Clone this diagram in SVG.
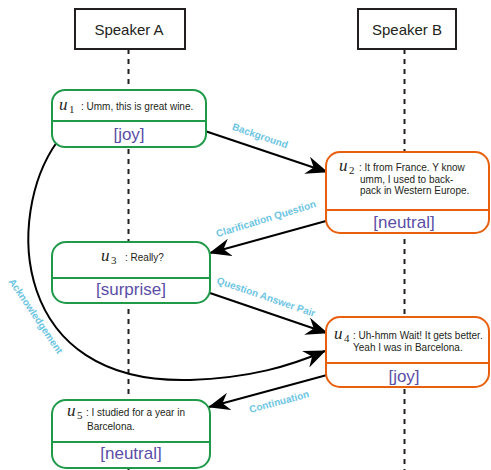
<svg xmlns="http://www.w3.org/2000/svg" width="491" height="470" viewBox="0 0 491 470">
<style>
.spk{fill:#fff;stroke:#231f20;stroke-width:2}
.spkt{font-family:"Liberation Sans",Arial,sans-serif;font-size:15px;fill:#231f20;text-anchor:middle}
.life{stroke:#231f20;stroke-width:2;stroke-dasharray:5,5;fill:none}
.ga{fill:#fff;stroke:#1f9a48;stroke-width:2}
.gl{stroke:#1f9a48;stroke-width:2}
.ob{fill:#fff;stroke:#e8600e;stroke-width:2}
.ol{stroke:#e8600e;stroke-width:2}
.u{font-family:"Liberation Serif","Times New Roman",serif;font-style:italic;font-size:17px;fill:#231f20}
.sub{font-family:"Liberation Serif","Times New Roman",serif;font-size:11px;fill:#231f20}
.t{font-family:"Liberation Sans",Arial,sans-serif;font-size:10px;fill:#231f20}
.emo{font-family:"Liberation Sans",Arial,sans-serif;font-size:17px;fill:#5a4ea6;text-anchor:middle}
.edge{stroke:#000;stroke-width:2;fill:none}
.lbl{font-family:"Liberation Sans",Arial,sans-serif;font-size:10px;font-weight:bold;fill:#6cc5e2;text-anchor:middle}
</style>
<defs>
<marker id="ah" viewBox="0 0 22 18" refX="21" refY="9" markerWidth="22" markerHeight="18" markerUnits="userSpaceOnUse" orient="auto">
<path d="M0,0 L22,9 L0,18 L7,9 Z" fill="#000"/>
</marker>
</defs>
<rect width="491" height="470" fill="#fff"/>
<g id="lifelines">
<line class="life" x1="128.5" y1="49" x2="128.5" y2="470"/>
<line class="life" x1="404.5" y1="49" x2="404.5" y2="470"/>
</g>
<g id="speakerA">
<rect class="spk" x="75" y="9" width="110" height="40"/>
<text class="spkt" x="129" y="35">Speaker A</text>
</g>
<g id="speakerB">
<rect class="spk" x="358" y="9" width="98" height="40"/>
<text class="spkt" x="407" y="35">Speaker B</text>
</g>
<g id="connectors">
<path class="edge" d="M57,142 C5,215 10,385 190,380 C250,378 290,366 325,351" marker-end="url(#ah)"/>
<line class="edge" x1="205" y1="131" x2="327" y2="172" marker-end="url(#ah)"/>
<line class="edge" x1="326" y1="221" x2="210" y2="253" marker-end="url(#ah)"/>
<line class="edge" x1="207" y1="292" x2="327" y2="333" marker-end="url(#ah)"/>
<line class="edge" x1="327" y1="375" x2="209" y2="407" marker-end="url(#ah)"/>
<text class="lbl" transform="translate(259,139) rotate(19)">Background</text>
<text class="lbl" transform="translate(267,222) rotate(-17)">Clarification Question</text>
<text class="lbl" transform="translate(265,300) rotate(19)">Question Answer Pair</text>
<text class="lbl" transform="translate(280,405) rotate(-15)">Continuation</text>
<text class="lbl" transform="translate(33,318) rotate(56)">Acknowledgement</text>
</g>
<g id="u1">
<rect class="ga" x="52" y="90" width="154" height="57" rx="13"/>
<line class="gl" x1="52" y1="121" x2="206" y2="121"/>
<text class="u" x="59" y="110">u</text><text class="sub" x="69" y="113">1</text>
<text class="t" x="81" y="110">: Umm, this is great wine.</text>
<text class="emo" x="129" y="140">[joy]</text>
</g>
<g id="u2">
<rect class="ob" x="326" y="152" width="163" height="81" rx="14"/>
<line class="ol" x1="326" y1="210" x2="489" y2="210"/>
<text class="u" x="339" y="171">u</text><text class="sub" x="349" y="174">2</text>
<text class="t" x="359" y="171">: It from France. Y know</text>
<text class="t" x="360" y="182.5">umm, I used to back-</text>
<text class="t" x="360" y="194">pack in Western Europe.</text>
<text class="emo" x="404" y="228">[neutral]</text>
</g>
<g id="u3">
<rect class="ga" x="52" y="242" width="158" height="61" rx="14"/>
<line class="gl" x1="52" y1="278" x2="210" y2="278"/>
<text class="u" x="101" y="261">u</text><text class="sub" x="111" y="264">3</text>
<text class="t" x="125" y="261">: Really?</text>
<text class="emo" x="131" y="295">[surprise]</text>
</g>
<g id="u4">
<rect class="ob" x="326" y="317" width="163" height="70" rx="14"/>
<line class="ol" x1="326" y1="363" x2="489" y2="363"/>
<text class="u" x="334" y="339">u</text><text class="sub" x="344" y="342">4</text>
<text class="t" x="353" y="339">: Uh-hmm Wait! It gets better.</text>
<text class="t" x="353" y="351">Yeah I was in Barcelona.</text>
<text class="emo" x="404" y="382">[joy]</text>
</g>
<g id="u5">
<rect class="ga" x="52" y="400" width="158" height="68" rx="14"/>
<line class="gl" x1="52" y1="442" x2="210" y2="442"/>
<text class="u" x="67" y="416">u</text><text class="sub" x="77" y="419">5</text>
<text class="t" x="86" y="416">: I studied for a year in</text>
<text class="t" x="87" y="430">Barcelona.</text>
<text class="emo" x="131" y="459">[neutral]</text>
</g>
</svg>
